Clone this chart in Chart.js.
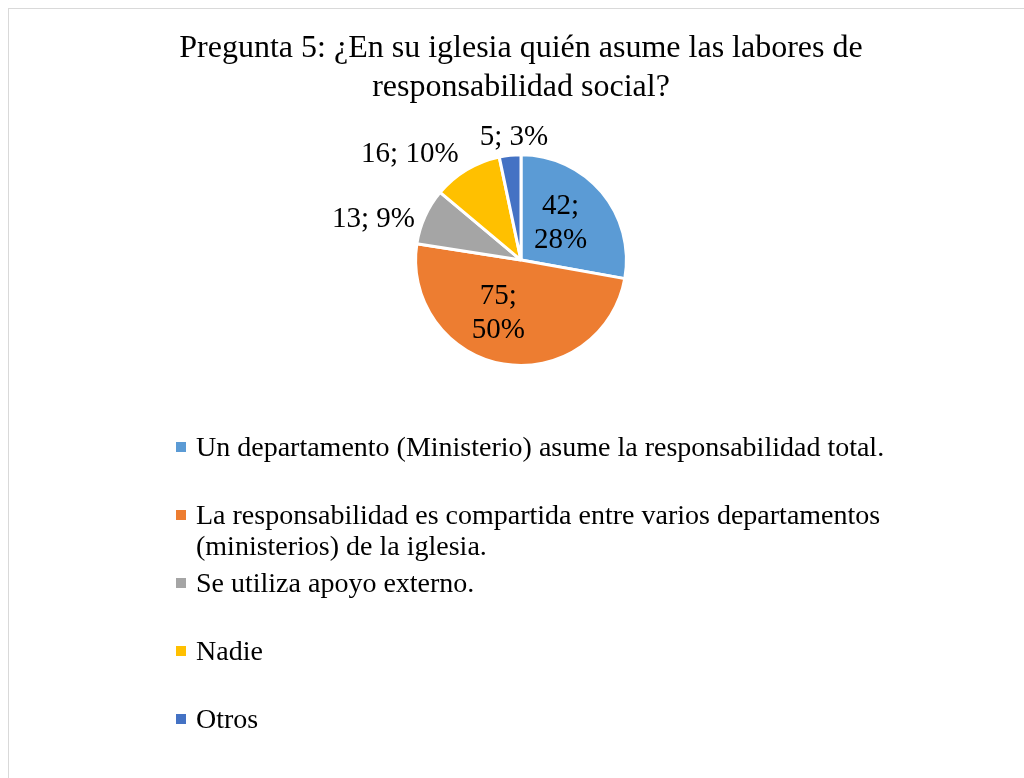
<!DOCTYPE html>
<html>
<head>
<meta charset="utf-8">
<script src="https://cdn.jsdelivr.net/npm/chart.js@4.4.1/dist/chart.umd.min.js"></script>
<style>
  html, body { margin: 0; padding: 0; background: #ffffff; }
  body { width: 1024px; height: 778px; position: relative; overflow: hidden; font-family: "Liberation Serif", "Times New Roman", serif; }
  .frame { position: absolute; left: 8px; top: 8px; width: 1030px; height: 790px; border: 1px solid #d9d9d9; box-sizing: border-box; }
  #chartBox { position: absolute; left: 0; top: 0; width: 1024px; height: 778px; }
  .legend { position: absolute; left: 176px; top: 431px; }
  .legend-item { height: 68px; display: flex; align-items: flex-start; font-size: 28px; line-height: 31px; color: #000; }
  .legend-swatch { width: 10px; height: 10px; margin-top: 11px; margin-right: 10px; flex: none; }
  .legend-text { width: 720px; }
</style>
</head>
<body>
<div class="frame"></div>
<div id="chartBox"><canvas id="pieChart" width="1024" height="778"></canvas></div>
<div class="legend" id="legend"></div>

<script>
// --- Data ---
const categories = [
  "Un departamento (Ministerio) asume la responsabilidad total.",
  "La responsabilidad es compartida entre varios departamentos (ministerios) de la iglesia.",
  "Se utiliza apoyo externo.",
  "Nadie",
  "Otros"
];
const counts = [42, 75, 13, 16, 5];
const percentLabels = ["28%", "50%", "9%", "10%", "3%"];

const sliceColors = ["#5b9bd5", "#ed7d31", "#a5a5a5", "#ffc000", "#4472c4"];

// --- Label placement (inside for big slices, outside for small ones) ---
const labelInside = [true, true, false, false, false];
const labelNudge = [[-5, 1], [-13, -4], [-1, 7], [-3, -7], [5, -8]];

const serif = "'Liberation Serif', 'Times New Roman', serif";

const sliceLabels = {
  id: "sliceLabels",
  afterDatasetsDraw(chart) {
    const ctx = chart.ctx;
    const arcs = chart.getDatasetMeta(0).data;
    ctx.save();
    ctx.font = "29px " + serif;
    ctx.fillStyle = "#000";
    ctx.textBaseline = "middle";
    arcs.forEach((arc, i) => {
      const p = arc.getProps(["x", "y", "startAngle", "endAngle", "outerRadius"], true);
      const mid = (p.startAngle + p.endAngle) / 2;
      const cos = Math.cos(mid), sin = Math.sin(mid);
      const [nx, ny] = labelNudge[i];
      if (labelInside[i]) {
        const r = p.outerRadius * 0.55;
        const cx = p.x + cos * r + nx;
        const cy = p.y + sin * r + ny;
        ctx.textAlign = "center";
        ctx.fillText(counts[i] + ";", cx, cy - 17);
        ctx.fillText(percentLabels[i], cx, cy + 17);
      } else {
        const r = p.outerRadius + 10;
        let ax = p.x + cos * r + nx;
        let ay = p.y + sin * r + ny;
        ctx.textAlign = cos < -0.3 ? "right" : (cos > 0.3 ? "left" : "center");
        ctx.fillText(counts[i] + "; " + percentLabels[i], ax, ay);
      }
    });
    ctx.restore();
  }
};

const ctx = document.getElementById("pieChart").getContext("2d");

const pieChart = new Chart(ctx, {
  type: "pie",
  data: {
    labels: categories,
    datasets: [{
      data: counts,
      backgroundColor: sliceColors,
      borderColor: "#ffffff",
      borderWidth: 3,
      hoverOffset: 0
    }]
  },
  options: {
    responsive: false,
    animation: false,
    events: [],
    layout: { padding: { left: 18, right: 0, top: 0, bottom: 411 } },
    plugins: {
      legend: { display: false },
      tooltip: { enabled: false },
      title: {
        display: true,
        text: ["Pregunta 5: ¿En su iglesia quién asume las labores de", "responsabilidad social?"],
        color: "#000",
        font: { family: serif, size: 32, weight: "normal", lineHeight: 1.19 },
        padding: { top: 30, bottom: 47 }
      }
    }
  },
  plugins: [sliceLabels]
});

// --- Legend (HTML) ---
const legendEl = document.getElementById("legend");
categories.forEach((name, i) => {
  const item = document.createElement("div");
  item.className = "legend-item";
  const sw = document.createElement("span");
  sw.className = "legend-swatch";
  sw.style.background = sliceColors[i];
  const tx = document.createElement("span");
  tx.className = "legend-text";
  tx.textContent = name;
  item.appendChild(sw);
  item.appendChild(tx);
  legendEl.appendChild(item);
});
</script>
</body>
</html>
